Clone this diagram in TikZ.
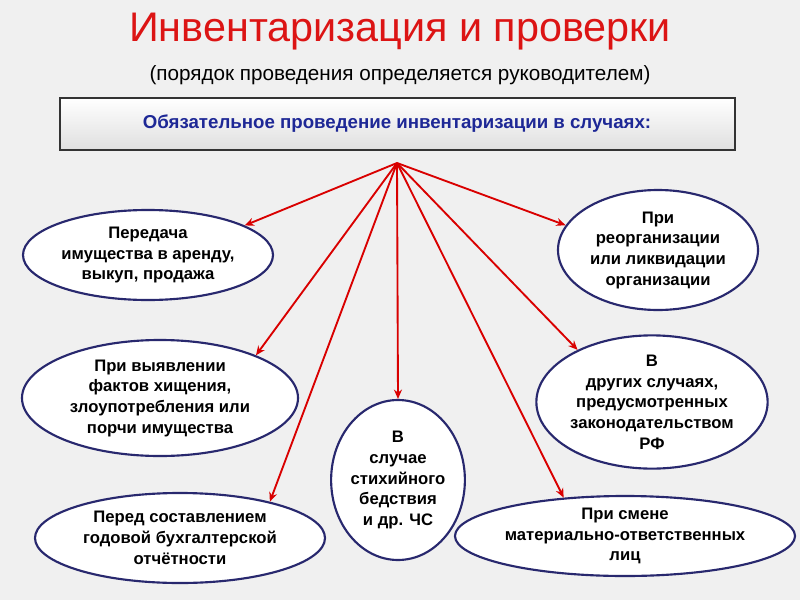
\documentclass[tikz,border=0pt]{standalone}
\usepackage{fontspec}
\setmainfont{Liberation Sans}
\usetikzlibrary{shapes.geometric,arrows.meta}
\definecolor{navy}{RGB}{40,40,110}
\definecolor{titlered}{RGB}{220,20,20}
\definecolor{boxblue}{RGB}{30,40,150}
\begin{document}
\begin{tikzpicture}[x=0.75pt,y=-0.75pt,
  oval/.style={ellipse,draw=navy,line width=1.6pt,fill=white,inner sep=0pt,
    font=\bfseries\fontsize{12.5}{15.5}\selectfont,align=center},
  link/.style={draw=red!85!black,line width=1.4pt,-{Stealth[length=7pt,width=6pt]}}]
\fill[gray!12] (0,0) rectangle (800,600);
\useasboundingbox (0,0) rectangle (800,600);

% title
\node[text=titlered,font=\fontsize{31}{34}\selectfont] (title) at (400,32) {Инвентаризация и проверки};
\node[font=\fontsize{15.5}{17}\selectfont] (sub) at (400,75) {(порядок проведения определяется руководителем)};

% header box
\shade[top color=white,bottom color=gray!25,draw=black!80,line width=1pt] (60,98) rectangle (735,150);
\node[text=boxblue,font=\bfseries\fontsize{14}{16}\selectfont] (head) at (397,124) {Обязательное проведение инвентаризации в случаях:};
\coordinate (apex) at (397,163);

% cases
\node[oval,minimum width=0.75*250pt,minimum height=0.75*90pt] (lease) at (148,255) {Передача\\имущества в аренду,\\выкуп, продажа};
\node[oval,minimum width=0.75*200pt,minimum height=0.75*120pt] (reorg) at (658,250) {При\\реорганизации\\или ликвидации\\организации};
\node[oval,minimum width=0.75*276pt,minimum height=0.75*116pt] (theft) at (160,398) {При выявлении\\фактов хищения,\\злоупотребления или\\порчи имущества};
\node[oval,minimum width=0.75*216pt,minimum height=0.75*130pt] (other) at (652,402) {В\\других случаях,\\предусмотренных\\законодательством\\РФ};
\node[oval,minimum width=0.75*116pt,minimum height=0.75*160pt] (disaster) at (398,480) {В\\случае\\стихийного\\бедствия\\и др. ЧС};
\node[oval,minimum width=0.75*290pt,minimum height=0.75*90pt] (report) at (180,538) {Перед составлением\\годовой бухгалтерской\\отчётности};
\node[oval,minimum width=0.75*310pt,minimum height=0.75*80pt] (staff) at (625,536) {При смене\\материально-ответственных\\лиц};

% arrows
\foreach \t/\a in {lease/17,reorg/165,theft/24,other/145,disaster/90,report/22,staff/148}
  \draw[link] (apex) -- (\t.\a);
\end{tikzpicture}
\end{document}
